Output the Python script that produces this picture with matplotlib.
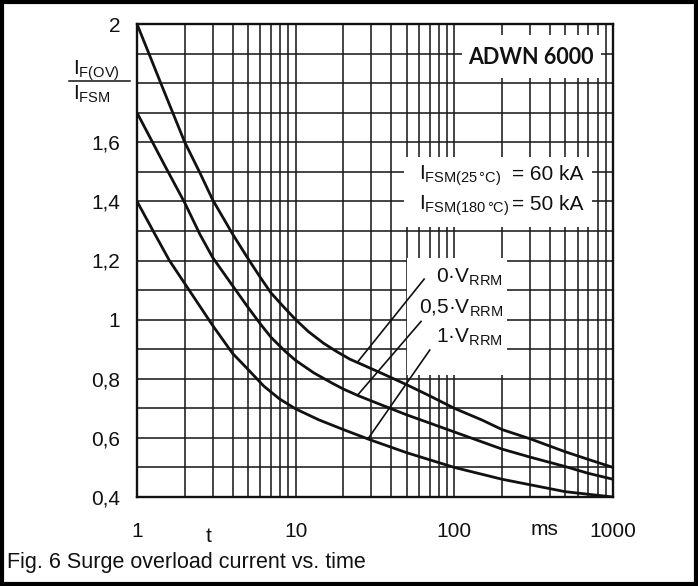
import matplotlib
matplotlib.use('Agg')
import matplotlib.pyplot as plt
from matplotlib.patches import Rectangle
from matplotlib.ticker import FixedLocator, NullFormatter

plt.rcParams['font.family'] = ['Liberation Sans', 'DejaVu Sans']
plt.rcParams['mathtext.fontset'] = 'custom'
plt.rcParams['mathtext.rm'] = 'Liberation Sans'
plt.rcParams['mathtext.it'] = 'Liberation Sans:italic'
plt.rcParams['mathtext.bf'] = 'Liberation Sans:bold'

# ---- data ----
t_top = [1, 1.5, 2, 2.5, 3, 4, 5, 6, 7, 8.5, 10, 12, 15, 18, 22, 27, 35, 50,
         70, 100, 150, 200, 300, 500, 700, 1000]
v_top = [2.0, 1.765, 1.60, 1.495, 1.405, 1.29, 1.207, 1.142, 1.09, 1.04, 1.0,
         0.96, 0.92, 0.893, 0.866, 0.845, 0.818, 0.78, 0.742, 0.70, 0.66,
         0.628, 0.597, 0.553, 0.527, 0.50]

t_mid = [1, 1.5, 2, 2.5, 3, 4, 5, 6, 7, 8.5, 10, 13, 17, 20, 25, 30, 50, 70,
         100, 200, 300, 500, 700, 1000]
v_mid = [1.70, 1.52, 1.395, 1.287, 1.21, 1.115, 1.042, 0.985, 0.94, 0.895,
         0.862, 0.82, 0.785, 0.765, 0.742, 0.725, 0.678, 0.65, 0.62, 0.562,
         0.535, 0.503, 0.48, 0.46]

t_bot = [1, 1.3, 1.6, 2, 3, 4, 5, 6.3, 7.9, 10, 14, 20, 30, 50, 100, 200,
         500, 1000]
v_bot = [1.40, 1.288, 1.20, 1.122, 0.98, 0.886, 0.832, 0.775, 0.732, 0.698,
         0.661, 0.628, 0.592, 0.55, 0.50, 0.46, 0.418, 0.40]

curve_labels = ['0·V$_{\\mathrm{RRM}}$', '0,5·V$_{\\mathrm{RRM}}$', '1·V$_{\\mathrm{RRM}}$']

x_major = [1, 10, 100, 1000]
x_major_labels = ['1', '10', '100', '1000']
x_minor = [m * d for d in (1, 10, 100) for m in range(2, 10)]
y_major = [0.4, 0.6, 0.8, 1.0, 1.2, 1.4, 1.6, 2.0]
y_major_labels = ['0,4', '0,6', '0,8', '1', '1,2', '1,4', '1,6', '2']
y_grid = [0.5, 0.7, 0.9, 1.1, 1.3, 1.5, 1.7, 1.8, 1.9]

W, H = 698, 586
FS = 15
INK = '#111111'

fig = plt.figure(figsize=(W / 100, H / 100), dpi=100)
fig.patch.set_facecolor('white')

def fx(px):
    return px / W

def fy(py):
    return 1 - py / H

ax = fig.add_axes([fx(137), fy(497), (613 - 137) / W, (497 - 24) / H])
ax.set_xscale('log')
ax.set_xlim(1, 1000)
ax.set_ylim(0.4, 2.0)
ax.set_axisbelow(True)

ax.xaxis.set_major_locator(FixedLocator(x_major))
ax.xaxis.set_minor_locator(FixedLocator(x_minor))
ax.set_xticklabels(x_major_labels)
ax.xaxis.set_minor_formatter(NullFormatter())
ax.yaxis.set_major_locator(FixedLocator(y_major))
ax.yaxis.set_minor_locator(FixedLocator(y_grid))
ax.set_yticklabels(y_major_labels)
ax.tick_params(which='both', length=0, labelsize=FS, colors=INK)
ax.tick_params(axis='x', pad=18)
ax.tick_params(axis='y', pad=12)
ax.grid(which='both', color='#1c1c1c', lw=1.15)
for s in ax.spines.values():
    s.set_linewidth(1.7)
    s.set_color(INK)

# white boxes behind the annotations (they mask the grid)
def wbox(t0, t1, v0, v1):
    ax.add_patch(Rectangle((t0, v0), t1 - t0, v1 - v0, facecolor='white',
                           edgecolor='none', zorder=1))

wbox(112, 840, 1.817, 1.963)
wbox(48.5, 738, 1.313, 1.55)
wbox(50.6, 215, 0.8126, 1.208)

# curves
for t, v in ((t_top, v_top), (t_mid, v_mid), (t_bot, v_bot)):
    ax.plot(t, v, color=INK, lw=2.0, zorder=3, solid_joinstyle='round',
            solid_capstyle='butt')

# leader lines
ax.plot([24.6, 64.5], [0.857, 1.137], color=INK, lw=1.2, zorder=3)
ax.plot([24.6, 61.7], [0.745, 0.994], color=INK, lw=1.2, zorder=3)
ax.plot([28.5, 70.0], [0.596, 0.897], color=INK, lw=1.2, zorder=3)

# curve labels
for lab, vb in zip(curve_labels, [1.124, 1.019, 0.921]):
    ax.text(202, vb, lab, ha='right', va='baseline', fontsize=FS, zorder=4,
            color=INK)

# device name
ax.text(305, 1.888, 'ADWN 6000', ha='center', va='center', fontsize=15.5,
        fontweight='bold', family=['Lato', 'DejaVu Sans'], zorder=4, color=INK)

# I_FSM block
ax.text(60.2, 1.472, 'I$_{\\mathrm{FSM(25\\,°C)}}$', ha='left', va='baseline',
        fontsize=FS, zorder=4, color=INK)
ax.text(60.2, 1.371, 'I$_{\\mathrm{FSM(180\\,°C)}}$', ha='left', va='baseline',
        fontsize=FS, zorder=4, color=INK)
ax.text(231, 1.472, '= 60 kA', ha='left', va='baseline', fontsize=FS, zorder=4,
        color=INK)
ax.text(231, 1.371, '= 50 kA', ha='left', va='baseline', fontsize=FS, zorder=4,
        color=INK)

# y-axis label as a fraction
fig.text(fx(73), fy(75), 'I$_{\\mathrm{F(OV)}}$', ha='left', va='baseline',
         fontsize=FS, color=INK)
fig.text(fx(73), fy(100), 'I$_{\\mathrm{FSM}}$', ha='left', va='baseline',
         fontsize=FS, color=INK)
fig.add_artist(plt.Line2D([fx(69), fx(130)], [fy(81), fy(81)], color=INK,
                          lw=1.1, transform=fig.transFigure))

# x axis extra labels
fig.text(fx(209), fy(542), 't', ha='center', va='baseline', fontsize=FS,
         color=INK)
fig.text(fx(544), fy(535), 'ms', ha='center', va='baseline', fontsize=FS,
         color=INK)

# caption
fig.text(fx(7), fy(568), 'Fig. 6 Surge overload current vs. time', ha='left',
         va='baseline', fontsize=15.5, color=INK)

# outer frame
fig.add_artist(Rectangle((fx(2), fy(584)), (W - 4) / W, (H - 4) / H,
                         transform=fig.transFigure, facecolor='none',
                         edgecolor='black', lw=3.0))

fig.savefig('out.png', dpi=100, facecolor='white')
